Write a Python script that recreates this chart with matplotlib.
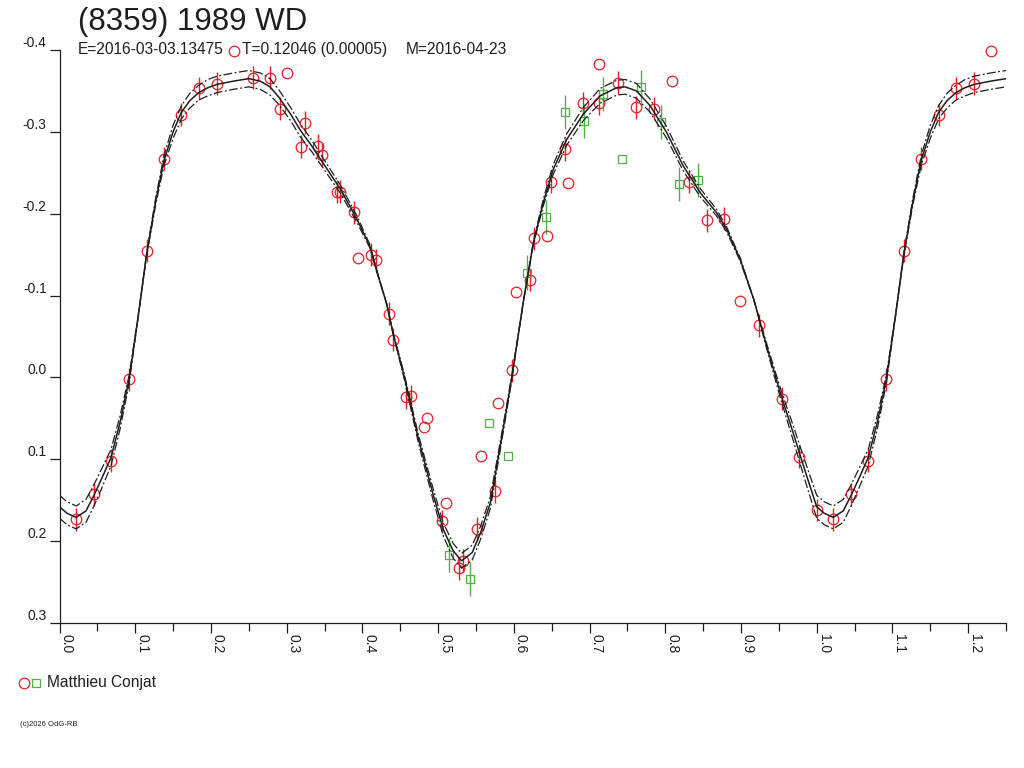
"""Folded light curve of (8359) 1989 WD with Fourier fit and its +/- band."""
import matplotlib
matplotlib.use("Agg")
import matplotlib.pyplot as plt
from matplotlib.lines import Line2D
import numpy as np

# observations, first session (red circles); err 0 = point drawn without bar
red_phase = [0.022, 0.045, 0.068, 0.092, 0.115, 0.138, 0.161, 0.184, 0.208, 0.230,
             0.255, 0.278, 0.291, 0.301, 0.319, 0.324, 0.342, 0.347, 0.366, 0.371,
             0.389, 0.394, 0.411, 0.418, 0.435, 0.441, 0.458, 0.464, 0.482, 0.486,
             0.505, 0.510, 0.528, 0.533, 0.551, 0.556, 0.575, 0.579, 0.598, 0.603,
             0.621, 0.626, 0.644, 0.649, 0.668, 0.672, 0.691, 0.713, 0.713, 0.737,
             0.762, 0.785, 0.809, 0.831, 0.855, 0.878, 0.899, 0.924, 0.954, 0.977,
             1.000]
red_mag = [0.173, 0.143, 0.102, 0.002, -0.155, -0.267, -0.321, -0.353, -0.359, -0.399,
           -0.366, -0.366, -0.328, -0.372, -0.282, -0.311, -0.283, -0.272, -0.227, -0.227,
           -0.202, -0.146, -0.150, -0.143, -0.078, -0.046, 0.024, 0.023, 0.060, 0.050,
           0.176, 0.153, 0.233, 0.224, 0.185, 0.096, 0.139, 0.031, -0.009, -0.104,
           -0.119, -0.170, -0.173, -0.239, -0.279, -0.238, -0.335, -0.335, -0.383, -0.360,
           -0.330, -0.328, -0.362, -0.239, -0.192, -0.194, -0.093, -0.064, 0.026, 0.097,
           0.162]
red_err = [0.014, 0.014, 0.014, 0.014, 0.014, 0.014, 0.014, 0.014, 0.014, 0.0,
           0.014, 0.014, 0.014, 0.0, 0.014, 0.014, 0.014, 0.014, 0.014, 0.014,
           0.014, 0.0, 0.014, 0.014, 0.014, 0.014, 0.014, 0.014, 0.0, 0.0,
           0.014, 0.0, 0.014, 0.014, 0.014, 0.0, 0.014, 0.0, 0.014, 0.0,
           0.014, 0.014, 0.0, 0.014, 0.014, 0.0, 0.014, 0.014, 0.0, 0.014,
           0.014, 0.014, 0.0, 0.014, 0.014, 0.014, 0.0, 0.014, 0.014, 0.014,
           0.014]

# second session (green squares)
green_phase = [0.515, 0.542, 0.567, 0.592, 0.618, 0.642, 0.668, 0.693, 0.718, 0.743,
               0.768, 0.794, 0.818, 0.843]
green_mag = [0.217, 0.246, 0.056, 0.096, -0.128, -0.196, -0.324, -0.313, -0.346, -0.267,
             -0.355, -0.312, -0.236, -0.241]
green_err = [0.021, 0.021, 0.0, 0.0, 0.021, 0.021, 0.021, 0.021, 0.021, 0.0,
             0.021, 0.021, 0.021, 0.021]

# fitted curve (solid) and the two dash-dot envelope curves
fit_phase = [0.000, 0.010, 0.022, 0.035, 0.045, 0.055, 0.068, 0.080, 0.092, 0.104,
             0.115, 0.127, 0.138, 0.150, 0.161, 0.172, 0.184, 0.196, 0.208, 0.230,
             0.250, 0.265, 0.278, 0.290, 0.305, 0.318, 0.333, 0.348, 0.371, 0.393,
             0.410, 0.419, 0.432, 0.441, 0.454, 0.463, 0.474, 0.494, 0.507, 0.520,
             0.531, 0.545, 0.556, 0.569, 0.582, 0.591, 0.597, 0.613, 0.626, 0.639,
             0.652, 0.670, 0.692, 0.714, 0.736, 0.747, 0.762, 0.780, 0.802, 0.824,
             0.846, 0.868, 0.881, 0.899, 0.917, 0.934, 0.952, 0.969, 0.987, 1.000]
fit_mag = [0.158, 0.166, 0.171, 0.163, 0.145, 0.125, 0.098, 0.055, 0.002, -0.075,
           -0.150, -0.215, -0.265, -0.300, -0.324, -0.338, -0.348, -0.354, -0.358, -0.362,
           -0.365, -0.362, -0.355, -0.342, -0.322, -0.302, -0.283, -0.262, -0.230, -0.193,
           -0.160, -0.130, -0.090, -0.052, -0.006, 0.030, 0.075, 0.145, 0.186, 0.212,
           0.224, 0.214, 0.190, 0.153, 0.084, 0.035, 0.002, -0.095, -0.165, -0.214,
           -0.254, -0.291, -0.322, -0.344, -0.354, -0.355, -0.350, -0.332, -0.299, -0.258,
           -0.226, -0.201, -0.181, -0.144, -0.095, -0.038, 0.019, 0.068, 0.121, 0.158]
fit_hi = [0.172, 0.180, 0.185, 0.177, 0.158, 0.137, 0.108, 0.063, 0.007, -0.074,
          -0.152, -0.219, -0.271, -0.308, -0.332, -0.347, -0.357, -0.364, -0.368, -0.372,
          -0.375, -0.372, -0.365, -0.351, -0.330, -0.310, -0.290, -0.268, -0.235, -0.197,
          -0.162, -0.131, -0.090, -0.051, -0.003, 0.034, 0.080, 0.152, 0.194, 0.221,
          0.233, 0.223, 0.198, 0.160, 0.089, 0.039, 0.005, -0.095, -0.167, -0.218,
          -0.260, -0.298, -0.330, -0.353, -0.363, -0.364, -0.359, -0.340, -0.306, -0.264,
          -0.231, -0.205, -0.184, -0.146, -0.095, -0.035, 0.025, 0.077, 0.133, 0.172]
fit_lo = [0.144, 0.152, 0.157, 0.149, 0.132, 0.113, 0.088, 0.047, -0.003, -0.076,
          -0.148, -0.211, -0.259, -0.292, -0.316, -0.329, -0.339, -0.344, -0.348, -0.352,
          -0.355, -0.352, -0.345, -0.333, -0.314, -0.294, -0.276, -0.256, -0.225, -0.189,
          -0.158, -0.129, -0.090, -0.053, -0.009, 0.026, 0.070, 0.138, 0.178, 0.203,
          0.215, 0.205, 0.182, 0.146, 0.079, 0.031, -0.001, -0.095, -0.163, -0.210,
          -0.248, -0.284, -0.314, -0.335, -0.345, -0.346, -0.341, -0.324, -0.292, -0.252,
          -0.221, -0.197, -0.178, -0.142, -0.095, -0.041, 0.013, 0.059, 0.109, 0.144]

x_major = [0.0, 0.1, 0.2, 0.3, 0.4, 0.5, 0.6, 0.7, 0.8, 0.9, 1.0, 1.1, 1.2]
x_labels = ["0.0", "0.1", "0.2", "0.3", "0.4", "0.5", "0.6", "0.7", "0.8", "0.9",
            "1.0", "1.1", "1.2"]
x_minor = [0.05, 0.15, 0.25, 0.35, 0.45, 0.55, 0.65, 0.75, 0.85, 0.95, 1.05, 1.15, 1.25]
y_ticks = [-0.4, -0.3, -0.2, -0.1, 0.0, 0.1, 0.2, 0.3]
y_labels = ["-0.4", "-0.3", "-0.2", "-0.1", "0.0", "0.1", "0.2", "0.3"]

RED = "#f01c24"
GREEN = "#4fb341"
INK = "#1e1e1e"
W, H = 1024, 768


def fold(phase, *cols, upto=0.25):
    """Repeat the first part of the cycle after phase 1, as the plot does."""
    phase = np.asarray(phase, dtype=float)
    keep = phase <= upto + 1e-9
    out = [np.concatenate([phase, phase[keep] + 1.0])]
    for c in cols:
        c = np.asarray(c, dtype=float)
        out.append(np.concatenate([c, c[keep]]))
    return out


def points(ax, phase, mag, err, color, marker, ms):
    p, m, e = fold(phase, mag, err)
    has = e > 0
    ax.vlines(p[has], m[has] - e[has], m[has] + e[has], color=color, lw=1.0, zorder=2)
    ax.plot(p, m, linestyle="none", marker=marker, mfc="none", mec=color,
            ms=ms, mew=0.9, zorder=3, clip_on=False)


def main():
    plt.rcParams["font.family"] = ["Liberation Sans", "DejaVu Sans"]
    fig = plt.figure(figsize=(W / 100, H / 100), dpi=100)
    ax = fig.add_axes([59.5 / W, 1 - 623 / H, 946.5 / W, 573 / H])

    points(ax, red_phase, red_mag, red_err, RED, "o", 7.6)
    points(ax, green_phase, green_mag, green_err, GREEN, "s", 5.2)

    fp, fm, fh, fl = fold(fit_phase, fit_mag, fit_hi, fit_lo)
    ax.plot(fp, fm, color=INK, lw=1.1, zorder=4)
    for band in (fh, fl):
        ax.plot(fp, band, color=INK, lw=0.9, ls=(0, (7, 2, 1.5, 2)), zorder=4)

    ax.set_xlim(0, 1.25)
    ax.set_ylim(0.3, -0.4)
    for s in ("top", "right"):
        ax.spines[s].set_visible(False)
    for s in ("left", "bottom"):
        ax.spines[s].set_linewidth(0.9)
        ax.spines[s].set_color(INK)

    ax.set_xticks(x_major)
    ax.set_xticklabels(x_labels)
    ax.set_xticks(x_minor, minor=True)
    ax.set_yticks(y_ticks)
    ax.set_yticklabels(y_labels)
    ax.tick_params(axis="x", which="major", length=7.5, width=0.9, pad=0.5,
                   labelsize=10, colors=INK)
    ax.tick_params(axis="x", which="minor", length=6.0, width=0.9, colors=INK)
    ax.tick_params(axis="y", length=7.2, width=0.9, pad=2, labelsize=10, colors=INK)
    for lab in ax.get_xticklabels():
        lab.set_rotation(270)
        lab.set_ha("left")
        lab.set_va("top")
    for lab in ax.get_yticklabels():
        lab.set_va("bottom")

    # header
    fig.text(78 / W, 1 - 30 / H, "(8359) 1989 WD", fontsize=22.5, color=INK, va="baseline")
    fig.text(78 / W, 1 - 54 / H, "E=2016-03-03.13475", fontsize=11.2, color=INK, va="baseline")
    fig.text(242 / W, 1 - 54 / H, "T=0.12046 (0.00005)", fontsize=11.2, color=INK, va="baseline")
    fig.text(406 / W, 1 - 54 / H, "M=2016-04-23", fontsize=11.2, color=INK, va="baseline")

    # observer key and credit
    fig.add_artist(Line2D([24 / W], [1 - 683 / H], marker="o", mfc="none", mec=RED,
                          ms=7.6, mew=0.9, transform=fig.transFigure))
    fig.add_artist(Line2D([36 / W], [1 - 683 / H], marker="s", mfc="none", mec=GREEN,
                          ms=5.2, mew=0.9, transform=fig.transFigure))
    fig.text(47 / W, 1 - 683 / H, "Matthieu Conjat", fontsize=11.2, color=INK, va="center")
    fig.text(20 / W, 1 - 725 / H, "(c)2026 OdG-RB", fontsize=5.5, color=INK, va="center")

    fig.savefig("out.png", dpi=100)


if __name__ == "__main__":
    main()
